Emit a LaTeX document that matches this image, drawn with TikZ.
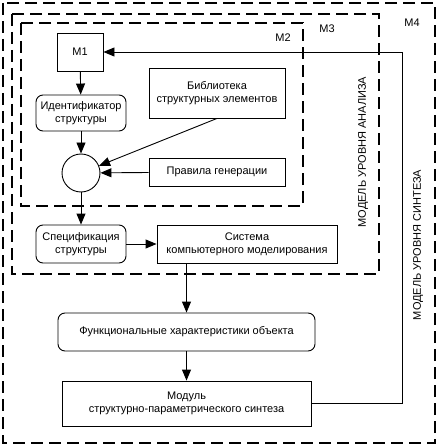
\documentclass[tikz,border=0pt]{standalone}
\usepackage{fontspec}
\setmainfont{Liberation Sans}
\usetikzlibrary{arrows.meta,calc}
\begin{document}
\begin{tikzpicture}[x=1pt,y=-1pt,
  every node/.style={font=\fontsize{11}{13}\selectfont, align=center, inner sep=0pt},
  frame/.style={draw, line width=1.2pt, dash pattern=on 12pt off 6pt},
  blk/.style={draw, line width=0.9pt, rectangle},
  rblk/.style={draw, line width=0.9pt, rectangle, rounded corners=7pt},
  conn/.style={line width=0.9pt, -{Triangle[length=11pt,width=9pt]}}]
\useasboundingbox (0,0) rectangle (437,446);
% frames
\draw[frame] (3,3) rectangle (435,443);
\draw[frame] (12,14) rectangle (379,274);
\draw[frame] (21,23) rectangle (303,206);
\node (lm2) at (283,38) {M2};
\node (lm3) at (327,29) {M3};
\node (lm4) at (412,23) {M4};
\node[rotate=90] (lan) at (363,152) {МОДЕЛЬ УРОВНЯ АНАЛИЗА};
\node[rotate=90] (lsy) at (418,245) {МОДЕЛЬ УРОВНЯ СИНТЕЗА};
% blocks
\node[blk, minimum width=46pt, minimum height=38pt] (m1) at (80,52) {M1};
\node[rblk, minimum width=90pt, minimum height=36pt] (id) at (81,113) {Идентификатор\\структуры};
\node[draw, line width=0.9pt, circle, minimum size=38pt] (c) at (81,173) {};
\node[blk, minimum width=136pt, minimum height=50pt] (lib) at (217,93) {Библиотека\\структурных элементов};
\node[blk, minimum width=136pt, minimum height=28pt] (rul) at (217,172) {Правила генерации};
\node[rblk, minimum width=90pt, minimum height=38pt] (spec) at (81,244) {Спецификация\\структуры};
\node[blk, minimum width=180pt, minimum height=38pt] (sys) at (247,244) {Система\\компьютерного моделирования};
\node[rblk, minimum width=257pt, minimum height=38pt] (fun) at (186.5,332) {Функциональные характеристики объекта};
\node[blk, minimum width=249pt, minimum height=45pt] (mod) at (186.5,403.5) {Модуль\\структурно-параметрического синтеза};
\coordinate (r1) at (402,403.5);
\coordinate (r2) at (402,52);
\coordinate (s1) at (fun.north |- sys.south);
% connectors
\draw[conn] (m1) -- (id);
\draw[conn] (id) -- (c);
\draw[conn] (lib.south) -- (c);
\draw[conn] (rul) -- (c);
\draw[conn] (c) -- (spec);
\draw[conn] (spec) -- (sys);
\draw[conn] (s1) -- (fun.north);
\draw[conn] (fun) -- (mod);
\draw[conn] (mod.east) -- (r1) -- (r2) -- (m1.east);
\end{tikzpicture}
\end{document}
